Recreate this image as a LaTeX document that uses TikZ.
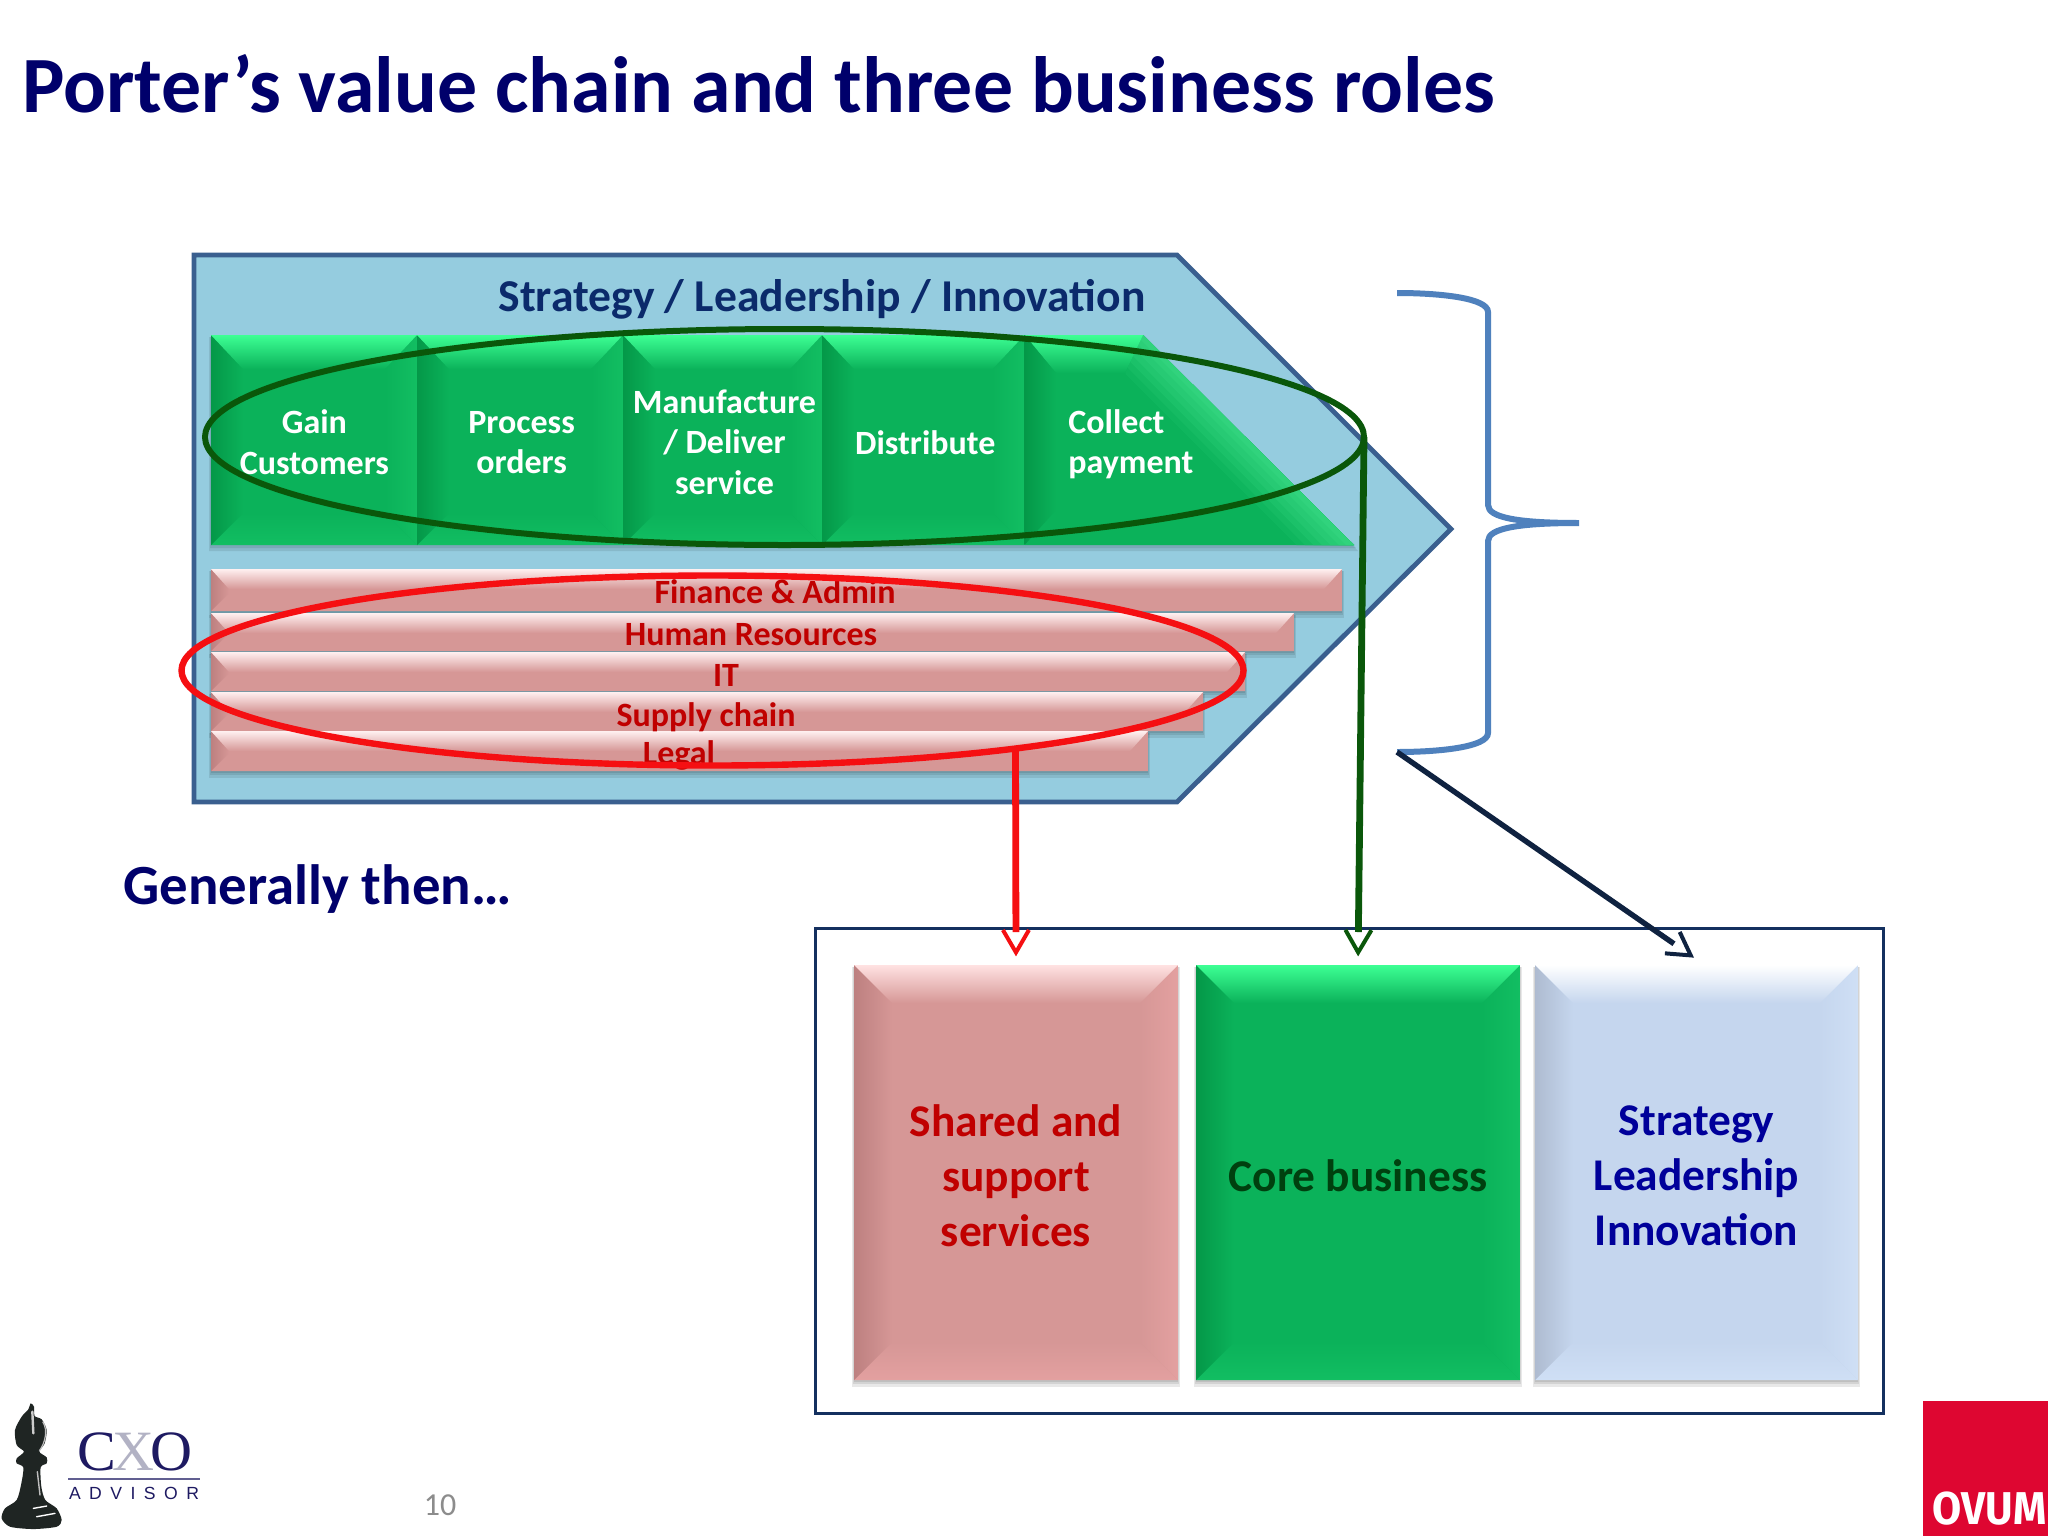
\documentclass[tikz,border=0pt]{standalone}
\usepackage{fontspec}
\setmainfont{Carlito}
\newfontfamily\logoserif{Liberation Serif}
\newfontfamily\logosans{Liberation Sans}
\newfontfamily\ovumfont{Fira Sans}
\usetikzlibrary{calc,arrows.meta,shapes.geometric}
\definecolor{navyT}{HTML}{00006B}
\definecolor{chevfill}{HTML}{95CCDF}
\definecolor{chevline}{HTML}{3A5F8F}
\definecolor{stratnavy}{HTML}{0B2A6B}
\definecolor{pinkbase}{HTML}{D69796}
\definecolor{pinklight}{HTML}{FFE2E2}
\definecolor{pinkbright}{HTML}{FFF0F0}
\definecolor{pinkdark}{HTML}{BD8080}
\definecolor{pinkright}{HTML}{E3A0A0}
\definecolor{greenbase}{HTML}{0BB25A}
\definecolor{greenlight}{HTML}{3DFF94}
\definecolor{greendark}{HTML}{049848}
\definecolor{greenright}{HTML}{12BE62}
\definecolor{greendiag}{HTML}{34D680}
\definecolor{bluebase}{HTML}{C5D6EE}
\definecolor{bluelight}{HTML}{FFFFFF}
\definecolor{bluedark}{HTML}{AEBBD0}
\definecolor{blueright}{HTML}{CFDFF5}
\definecolor{ellgreen}{HTML}{0A570A}
\definecolor{ellred}{HTML}{F50F12}
\definecolor{bracecol}{HTML}{4F81BD}
\definecolor{framenavy}{HTML}{14305F}
\definecolor{arrownavy}{HTML}{0F2240}
\definecolor{redtext}{HTML}{C00000}
\definecolor{greentext}{HTML}{00400F}
\definecolor{bluetext}{HTML}{00009A}
\definecolor{ovumred}{HTML}{DE0631}
\definecolor{cxonavy}{HTML}{1E1A62}
\definecolor{cxogrey}{HTML}{B2B2C4}
\definecolor{bishop}{HTML}{1F2523}
\pgfdeclarearrow{
  name=OpenVee,
  setup code={
    \pgfarrowssettipend{0pt}
    \pgfarrowssetlineend{-12.5pt}
    \pgfarrowssetvisualbackend{-13.5pt}
    \pgfarrowssetbackend{-13.5pt}
  },
  drawing code={
    \pgfsetdash{}{0pt}
    \pgfsetlinewidth{2pt}
    \pgfsetmiterjoin
    \pgfpathmoveto{\pgfqpoint{-13.5pt}{6.5pt}}
    \pgfpathlineto{\pgfqpoint{-2.3pt}{0pt}}
    \pgfpathlineto{\pgfqpoint{-13.5pt}{-6.5pt}}
    \pgfusepathqstroke
  }
}
\tikzset{
  bevelbox/.style n args={6}{rectangle,inner sep=0pt,outer sep=0pt,fill=#1,
    path picture={
      \coordinate (NW) at (path picture bounding box.north west);
      \coordinate (NE) at (path picture bounding box.north east);
      \coordinate (SW) at (path picture bounding box.south west);
      \coordinate (SE) at (path picture bounding box.south east);
      \shade[top color=#1,bottom color=#4] ([shift={(#5pt,#5pt)}]SW)--([shift={(-#5pt,#5pt)}]SE)--(SE)--(SW)--cycle;
      \shade[left color=#3,right color=#1] (NW)--([shift={(#5pt,-#5pt)}]NW)--([shift={(#5pt,#5pt)}]SW)--(SW)--cycle;
      \shade[left color=#1,right color=#4] ([shift={(-#5pt,-#5pt)}]NE)--(NE)--(SE)--([shift={(-#5pt,#5pt)}]SE)--cycle;
      \shade[top color=#2,bottom color=#1] (NW)--(NE)--([shift={(-#5pt,-#6pt)}]NE)--([shift={(#5pt,-#6pt)}]NW)--cycle;
    }},
  softshadow/.style={fill=black,opacity=.09},
  whitelabel/.style={text=white,font=\bfseries\fontsize{17}{20.25}\selectfont,align=center,inner sep=0pt},
  barlabel/.style={text=redtext,font=\bfseries\fontsize{17}{20}\selectfont},
  bigtext/.style={font=\bfseries\fontsize{22.7}{27.5}\selectfont,align=center,inner sep=0pt},
  ringline/.style={ellipse,draw,inner sep=0pt,outer sep=0pt},
}
\newcommand{\softshade}[4]{%
  \fill[softshadow] (#1-2,#2+2) rectangle (#3+2,#4+7);
  \fill[softshadow] (#1-1,#2+2) rectangle (#3+1,#4+4);
  \fill[softshadow] (#1,#2+2) rectangle (#3,#4+2);
}
\begin{document}
\begin{tikzpicture}[x=0.5pt,y=-0.5pt]
\useasboundingbox (0,0) rectangle (2048,1536);
\fill[white] (0,0) rectangle (2048,1536);

% Title
\node[anchor=west,inner sep=0pt,text=navyT,font=\bfseries\fontsize{39.9}{44}\selectfont] (title) at (22,84) {Porter’s value chain and three business roles};

% Chevron
\draw[fill=chevfill,draw=chevline,line width=2.4pt,miter limit=4] (194,255)--(1177,255)--(1451,529)--(1177,802)--(194,802)--cycle;
\node[text=stratnavy,font=\bfseries\fontsize{22.8}{26}\selectfont,inner sep=0pt] (strat) at (822,299) {Strategy / Leadership / Innovation};

% Support bars
\foreach \xx/\ya/\yb/\nm in {1342/569/611/fa,1294/613/651/hr,1245/652/691/it,1203/692/731/sc,1148/731/771/lg}{
  \softshade{211}{\ya}{\xx}{\yb}
  \node[bevelbox={pinkbase}{pinkbright}{pinkdark}{pinkbase}{9}{10},minimum width=(\xx-211)*0.5pt,minimum height=(\yb-\ya)*0.5pt,anchor=north west] (\nm) at (211,\ya) {};
}
\node[barlabel] (fal) at (775,592) {Finance \& Admin};
\node[barlabel] (hrl) at (751,635) {Human Resources};
\node[barlabel] (itl) at (726,675) {IT};
\node[barlabel] (scl) at (706,717) {Supply chain};
\node[barlabel] (lgl) at (679,755) {Legal};

% Primary chain
\fill[softshadow] (209,337)--(1145,337)--(1358,551)--(209,551)--cycle;
\fill[softshadow] (210,337)--(1144,337)--(1356,548)--(210,548)--cycle;
\node[bevelbox={greenbase}{greenlight}{greendark}{greenright}{16}{17},minimum width=103pt,minimum height=105pt,anchor=north west] (gain) at (211,335) {};
\node[bevelbox={greenbase}{greenlight}{greendark}{greenright}{16}{17},minimum width=103pt,minimum height=105pt,anchor=north west] (proc) at (417,335) {};
\node[bevelbox={greenbase}{greenlight}{greendark}{greenright}{16}{17},minimum width=99.5pt,minimum height=105pt,anchor=north west] (manu) at (623,335) {};
\node[bevelbox={greenbase}{greenlight}{greendark}{greenright}{16}{17},minimum width=101.25pt,minimum height=105pt,anchor=north west] (dist) at (822,335) {};
\node[whitelabel] (gaint) at ([shift={(.2pt,-1.2pt)}]gain.center) {Gain\\Customers};
\node[whitelabel] (proct) at ([shift={(.8pt,-1.2pt)}]proc.center) {Process\\orders};
\node[whitelabel] (manut) at ([shift={(1pt,-1pt)}]manu.center) {Manufacture\\/ Deliver\\service};
\node[whitelabel] (distt) at ([shift={(1pt,-1.2pt)}]dist.center) {Distribute};
\fill[greenbase] (1024.5,335)--(1143,335)--(1354,545)--(1024.5,545)--cycle;
\begin{scope}
  \clip (1143,335)--(1354,545)--(1240,545)--(1125,373)--cycle;
  \foreach \dd/\pp in {40/10,34/25,28/40,22/55,16/68,10/80,5/92}{
    \fill[greendiag!\pp!greenbase] (1143-.707*\dd-300,335+.707*\dd-300)--(1143-.707*\dd+500,335+.707*\dd+500)--(1143+1000,335)--(1143,335-600)--cycle;
  }
\end{scope}
\shade[top color=greenlight,bottom color=greenbase] (1024.5,335)--(1143,335)--(1125,373)--(1056,373)--cycle;
\shade[left color=greendark,right color=greenbase] (1024.5,335)--(1056,373)--(1056,510)--(1024.5,545)--cycle;
\node[text=white,font=\bfseries\fontsize{17}{20.25}\selectfont,align=left,anchor=west,inner sep=0pt] (coll) at (1068,444) {Collect\\payment};

% Rings
\node[ringline,draw=ellgreen,line width=3pt,minimum width=579.5pt,minimum height=108pt] (greenring) at (784.5,437) {};
\node[ringline,draw=ellred,line width=3.2pt,minimum width=531pt,minimum height=95pt] (redring) at (712.5,670.5) {};
\coordinate (redexit) at ($(redring.center)+(303,77)$);

% Brace
\coordinate (braceend) at (1397,752);
\draw[bracecol,line width=3pt] (1397,293) .. controls (1440,293) and (1488,298) .. (1488,312) -- (1488,505) .. controls (1488,518) and (1520,523) .. (1579,523) .. controls (1520,523) and (1488,528) .. (1488,541) -- (1488,733) .. controls (1488,747) and (1440,752) .. (braceend);

% Generally then
\node[anchor=west,inner sep=0pt,text=navyT,font=\bfseries\fontsize{28.4}{32}\selectfont] (gen) at (123,889) {Generally then…};

% Frame and boxes
\draw[framenavy,line width=1.5pt] (815,928.5) rectangle (1883,1413);
\softshade{854}{965}{1178}{1380}
\softshade{1196}{965}{1520}{1380}
\softshade{1535}{965}{1858}{1380}
\node[bevelbox={pinkbase}{pinklight}{pinkdark}{pinkright}{19}{19},minimum width=162pt,minimum height=207.5pt,anchor=north west] (sbox) at (854,965) {};
\node[bevelbox={greenbase}{greenlight}{greendark}{greenright}{19}{19},minimum width=162pt,minimum height=207.5pt,anchor=north west] (cbox) at (1196,965) {};
\node[bevelbox={bluebase}{bluelight}{bluedark}{blueright}{19}{19},minimum width=161.5pt,minimum height=207.5pt,anchor=north west] (lbox) at (1535,965) {};
\node[bigtext,text=redtext] (stext) at ([yshift=-1.5pt]sbox.center) {Shared and\\support\\services};
\node[bigtext,text=greentext] (ctext) at ([yshift=-1.5pt]cbox.center) {Core business};
\node[bigtext,text=bluetext] (ltext) at ([yshift=-1.5pt]lbox.center) {Strategy\\Leadership\\Innovation};

% Connectors
\draw[ellred,line width=3.4pt,-OpenVee,shorten >=4pt] (redexit) -- (sbox.north);
\draw[ellgreen,line width=3.4pt,-OpenVee,shorten >=4pt] (greenring.east) -- (cbox.north);
\draw[arrownavy,line width=2.7pt,-OpenVee] (braceend) -- ([shift={(-1pt,3.5pt)}]lbox.north);

% Page number
\node[text=black!45,font=\fontsize{16}{20}\selectfont,inner sep=0pt] (pagenum) at (440,1505) {10};

% Ovum logo
\node[fill=ovumred,minimum width=62.5pt,minimum height=67.5pt,inner sep=0pt,outer sep=0pt,anchor=north west] (ovum) at (1923,1401) {};
\node[text=white,inner sep=0pt,font=\ovumfont\bfseries\fontsize{23}{26}\selectfont] (ovumtext) at (1989.5,1509) {\scalebox{.92}[1]{OVUM}};

% CXO logo
\begin{scope}[shift={(0,1380)},x=0.1667pt,y=-0.1667pt]
\fill[bishop] plot[smooth cycle,tension=.45] coordinates {(92,70) (102,80) (104,108) (125,118) (140,150) (134,190) (118,215) (140,232) (140,250) (122,262) (124,320) (136,360) (170,385) (185,420) (170,440) (100,447) (30,440) (5,415) (15,385) (50,360) (64,310) (70,262) (50,250) (50,235) (72,215) (50,195) (45,150) (65,110) (85,88)};
\draw[white!80!black,line width=1.2pt,line cap=round] (97,95) -- (100,160);
\draw[white,line width=.7pt,line cap=round] (100,385) -- (140,378);
\draw[white,line width=.7pt,line cap=round] (110,410) -- (165,400);
\draw[white!75!black,line width=.7pt,line cap=round] (112,275) -- (120,345);
\draw[white!75!black,line width=.6pt] (128,125) .. controls (145,150) and (135,190) .. (118,212);
\end{scope}
\node[inner sep=0pt,font=\logoserif\fontsize{28.5}{30}\selectfont] (cxo) at (135,1452) {\scalebox{1.02}[1]{\textcolor{cxonavy}{C}\kern-2pt\textcolor{cxogrey}{X}\kern-2pt\textcolor{cxonavy}{O}}};
\coordinate (rulea) at (68,1479);
\coordinate (ruleb) at (200,1479);
\draw[cxonavy!70,line width=.7pt] (rulea) -- (ruleb);
\node[inner sep=0pt,text=cxonavy,font=\logosans\fontsize{8.8}{10}\selectfont] (adv) at (134,1493) {\makebox[65pt][s]{A\hfill D\hfill V\hfill I\hfill S\hfill O\hfill R}};
\end{tikzpicture}
\end{document}
